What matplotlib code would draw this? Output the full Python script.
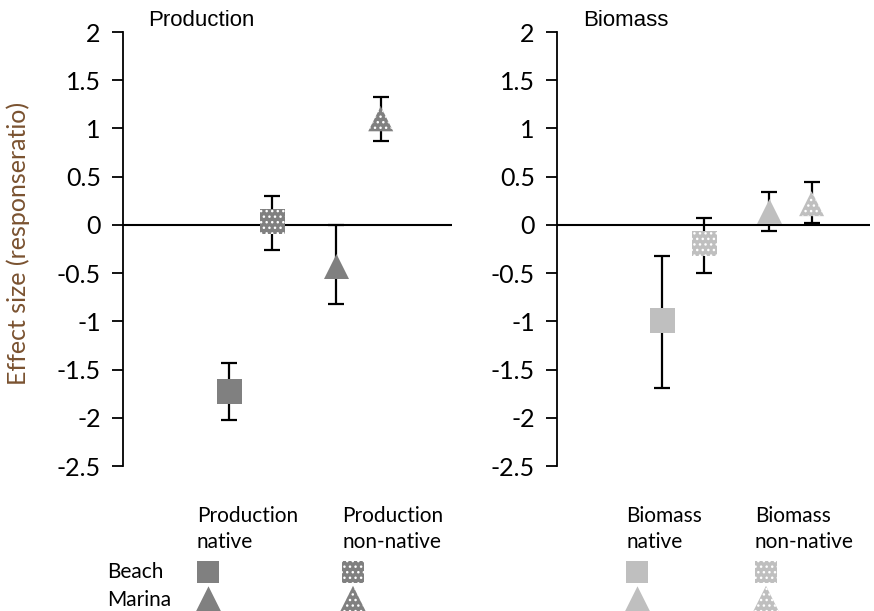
import numpy as np
import matplotlib
matplotlib.use('Agg')
import matplotlib.pyplot as plt

# values (effect size, lower/upper error bar ends)
groups = ['Beach native', 'Beach non-native', 'Marina native', 'Marina non-native']

prod_x = [0.97, 1.36, 1.94, 2.35]
prod_y = [-1.72, 0.04, -0.43, 1.10]
prod_lo = [-2.02, -0.26, -0.82, 0.87]
prod_hi = [-1.43, 0.30, 0.0, 1.33]

bio_x = [1.01, 1.41, 2.03, 2.44]
bio_y = [-0.985, -0.19, 0.145, 0.22]
bio_lo = [-1.69, -0.50, -0.06, 0.02]
bio_hi = [-0.32, 0.07, 0.34, 0.44]

yticks = [2, 1.5, 1, 0.5, 0, -0.5, -1, -1.5, -2, -2.5]

markers = ['s', 's', '^', '^']
hatches = [None, '...', None, '...']
prod_col = '#808080'
bio_col = '#bfbfbf'

plt.rcParams['hatch.linewidth'] = 1.0

fig = plt.figure(figsize=(8.74, 6.11), dpi=100)
axL = fig.add_axes([123/874, 1-466/611, 329/874, 434/611])
axR = fig.add_axes([557/874, 1-466/611, 313/874, 434/611])

def mark(ax, x, y, m, size, col, h):
    # hatch colour follows the edge colour, so the edge is white but not stroked
    ax.scatter([x], [y], s=size**2, marker=m, facecolors=col,
               edgecolors='white' if h else col, linewidths=0, hatch=h, zorder=3)

def panel(ax, xs, ys, lo, hi, col, title, tx):
    yerr = [np.array(ys) - np.array(lo), np.array(hi) - np.array(ys)]
    ax.axhline(0, color='black', lw=1.5, zorder=1)
    ax.errorbar(xs, ys, yerr=yerr, fmt='none', ecolor='black', elinewidth=1.6,
                capsize=5.5, capthick=1.6, zorder=2)
    for i in range(len(xs)):
        mark(ax, xs[i], ys[i], markers[i], 18, col, hatches[i])
    ax.set_xlim(0, 3)
    ax.set_ylim(-2.5, 2)
    ax.set_yticks(yticks)
    ax.set_yticklabels([('%g' % t) for t in yticks], fontsize=18, family='Lato')
    ax.tick_params(axis='y', direction='out', length=8, width=1.3, pad=8)
    ax.set_xticks([])
    for s in ['top', 'right', 'bottom']:
        ax.spines[s].set_visible(False)
    ax.spines['left'].set_linewidth(1.3)
    ax.text(tx, 1.026, title, transform=ax.transAxes, fontsize=16,
            family='Liberation Sans', ha='left', va='center')

panel(axL, prod_x, prod_y, prod_lo, prod_hi, prod_col, 'Production', 25/329)
panel(axR, bio_x, bio_y, bio_lo, bio_hi, bio_col, 'Biomass', 26/313)

fig.text(18/874, 1-243/611, 'Effect size (responseratio)', rotation=90,
         ha='center', va='center', fontsize=18, family='Lato', color='#7a5230')

# key below the panels
key = fig.add_axes([0, 0, 1, 1])
key.set_xlim(0, 874)
key.set_ylim(611, 0)
key.axis('off')
col_x = [208, 353, 637, 766]
col_txt = ['Production\nnative', 'Production\nnon-native', 'Biomass\nnative', 'Biomass\nnon-native']
col_c = [prod_col, prod_col, bio_col, bio_col]
col_h = [None, '...', None, '...']
for i in range(4):
    key.text(col_x[i] - 11, 529, col_txt[i], fontsize=15, family='Lato',
             ha='left', va='center', linespacing=1.35)
    mark(key, col_x[i], 572, 's', 16, col_c[i], col_h[i])
    mark(key, col_x[i], 599, '^', 19, col_c[i], col_h[i])
key.text(107, 572, 'Beach', fontsize=15, family='Lato', ha='left', va='center')
key.text(107, 600, 'Marina', fontsize=15, family='Lato', ha='left', va='center')

fig.savefig('out.png', dpi=100)
